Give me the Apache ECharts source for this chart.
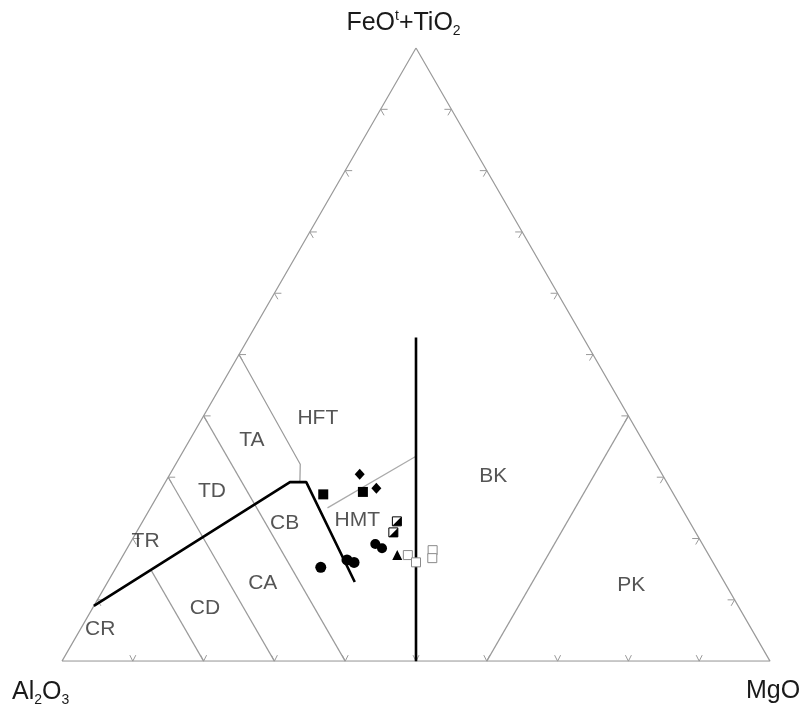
<!DOCTYPE html>
<html><head><meta charset="utf-8">
<script src="https://cdn.jsdelivr.net/npm/echarts@6/dist/echarts.min.js"></script>
<style>html,body{margin:0;padding:0;background:#fff}#c{width:807px;height:714px}</style>
</head><body><div id="c"></div>
<script>
// ternary coordinates [Al2O3, FeOt+TiO2, MgO] in %
const triangleEdge = [[100,0,0],[0,0,100],[0,100,0],[100,0,0]];
const thickTholCalc = [[91,9,0],[53.2,29.2,17.6],[50.9,29.2,19.9],[52.2,12.9,34.9]];
const thickKomatiite = [[50,0,50],[23.6,52.8,23.6]];
const lineAl80 = [[80,0,20],[80,14.8,5.2]];
const lineAl70 = [[70,0,30],[70,30,0]];
const lineAl60 = [[60,0,40],[60,40,0]];
const lineAl50 = [[50,50,0],[50.3,32.1,17.6],[51.8,29.2,19.0]];
const lineHftHmt = [[50,25,25],[33.3,33.4,33.3]];
const linePk = [[40,0,60],[0,40,60]];
const tickValues = [10,20,30,40,50,60,70,80,90];

const diamonds = [[42.7,30.5,26.8],[41.5,28.2,30.3]];
const filledSquares = [[49.5,27.2,23.3],[43.7,27.6,28.7]];
const halfSquares = [[41.3,22.8,35.9],[42.7,21.0,36.3]];
const blob = [[46.2,19.1,34.7],[45.6,18.4,36.0]];
const triangles = [[44.0,17.3,38.7]];
const filledCircles = [[55.8,15.3,28.9],[51.5,16.5,32.0],[50.7,16.1,33.2]];
const openSquares = [[42.5,17.3,40.2],[41.9,16.1,41.9],[38.6,18.1,43.3],[39.3,16.8,43.9]];

const fieldNames = ['HFT','TA','TD','TR','CB','HMT','BK','CR','CD','CA','PK'];
const fieldPos = [[44.0,39.6,16.3],[55.1,36.0,8.8],[64.9,27.7,7.3],[78.4,19.6,2.0],[57.3,22.5,20.2],[46.8,23.0,30.2],[24.0,30.2,45.8],[92.0,5.2,2.8],[75.5,8.6,15.9],[65.3,12.7,22.0],[13.4,12.4,74.2]];

const S3 = Math.sqrt(3)/2;
function toXY(t){const s=t[0]+t[1]+t[2];const f=t[1]/s,m=t[2]/s;return [m+f/2,f*S3];}
function lineSeries(arr,color,width,z){
  return {type:'line',data:arr.map(toXY),symbol:'none',silent:true,z:z||2,
    lineStyle:{color:color,width:width},animation:false};
}
const tickData=[];
tickValues.forEach(v=>{
  tickData.push(toXY([100-v,0,v]).concat([0]));
  tickData.push(toXY([100-v,v,0]).concat([1]));
  tickData.push(toXY([0,v,100-v]).concat([2]));
});

const chart = echarts.init(document.getElementById('c'),null,{renderer:'canvas'});
const FONT='Liberation Sans';
function pts(arr,symbol,size,style,z){
  return {type:'scatter',data:arr.map(toXY),symbol:symbol,symbolSize:size,z:z||5,silent:true,
    itemStyle:Object.assign({opacity:1},style)};
}
chart.setOption({
  animation:false,
  backgroundColor:'#fff',
  grid:{left:62,top:48,width:708,height:708*S3},
  xAxis:{type:'value',min:0,max:1,show:false},
  yAxis:{type:'value',min:0,max:S3,show:false},
  graphic:[
    {type:'text',left:'center',top:9,style:{text:'FeO{sup|t}+TiO{sub|2}',fontFamily:FONT,fontSize:25,fill:'#1a1a1a',
      rich:{sup:{fontSize:14,fontFamily:FONT,fill:'#1a1a1a',padding:[0,0,14,0]},sub:{fontSize:14,fontFamily:FONT,fill:'#1a1a1a',padding:[16,0,0,0]}}}},
    {type:'text',left:12,top:680,style:{text:'Al{sub|2}O{sub|3}',fontFamily:FONT,fontSize:25,fill:'#1a1a1a',
      rich:{sub:{fontSize:14,fontFamily:FONT,fill:'#1a1a1a',padding:[16,0,0,0]}}}},
    {type:'text',left:746,top:679,style:{text:'MgO',fontFamily:FONT,fontSize:25,fill:'#1a1a1a'}}
  ],
  series:[
    lineSeries(triangleEdge,'#9a9a9a',1.2),
    lineSeries(lineAl80,'#9a9a9a',1.2),
    lineSeries(lineAl70,'#9a9a9a',1.2),
    lineSeries(lineAl60,'#9a9a9a',1.2),
    lineSeries(lineAl50,'#9a9a9a',1.2),
    lineSeries(linePk,'#9a9a9a',1.2),
    lineSeries(lineHftHmt,'#aaaaaa',1.2),
    lineSeries(thickTholCalc,'#000',2.6,3),
    lineSeries(thickKomatiite,'#000',2.6,3),
    {type:'custom',silent:true,z:2,data:tickData,renderItem:function(params,api){
      const p=api.coord([api.value(0),api.value(1)]);const k=api.value(2);let q;
      if(k===0) q=[[p[0]-3,p[1]-6],[p[0],p[1]],[p[0]+3,p[1]-6]];
      else if(k===1) q=[[p[0]+7,p[1]],[p[0],p[1]],[p[0]+3.5,p[1]+6]];
      else q=[[p[0]-7,p[1]],[p[0],p[1]],[p[0]-3.5,p[1]+6]];
      return {type:'polyline',shape:{points:q},style:{stroke:'#9a9a9a',lineWidth:1,fill:null}};
    }},
    {type:'scatter',data:fieldPos.map((t,i)=>({name:fieldNames[i],value:toXY(t)})),symbolSize:1,silent:true,z:4,
      itemStyle:{color:'rgba(0,0,0,0)'},
      label:{show:true,position:'inside',formatter:'{b}',fontFamily:FONT,fontSize:21,color:'#2a2a2a'}},
    pts(openSquares,'rect',9,{color:'#fff',borderColor:'#8a8a8a',borderWidth:1}),
    pts(diamonds,'diamond',[10,11],{color:'#000'}),
    pts(filledSquares,'rect',10,{color:'#000'}),
    pts(halfSquares,'rect',9,{color:'#fff',borderColor:'#000',borderWidth:1}),
    pts(halfSquares,'path://M10,0 L10,10 L0,10 Z',9,{color:'#000'},6),
    pts(blob,'circle',10,{color:'#000'}),
    pts(triangles,'triangle',10,{color:'#000'}),
    pts(filledCircles,'circle',11,{color:'#000'})
  ]
});
</script></body></html>
